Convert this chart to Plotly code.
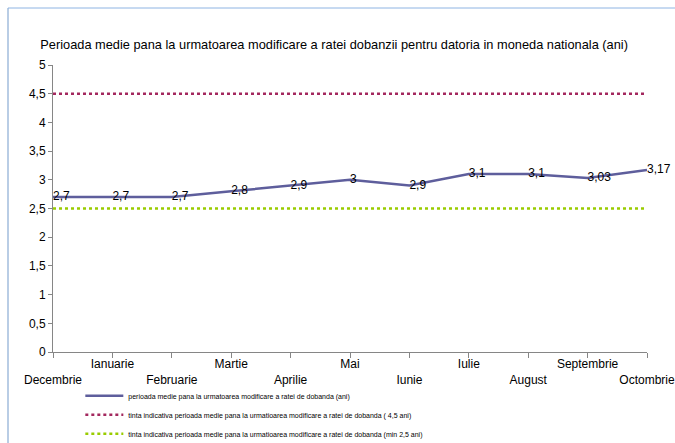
import plotly.graph_objects as go

months = ["Decembrie", "Ianuarie", "Februarie", "Martie", "Aprilie", "Mai",
          "Iunie", "Iulie", "August", "Septembrie", "Octombrie"]
perioada = [2.7, 2.7, 2.7, 2.8, 2.9, 3.0, 2.9, 3.1, 3.1, 3.03, 3.17]
tinta_max = [4.5] * len(months)
tinta_min = [2.5] * len(months)
y_ticks = [0, 0.5, 1, 1.5, 2, 2.5, 3, 3.5, 4, 4.5, 5]

name_main = "perioada medie pana la urmatoarea modificare a ratei de dobanda (ani)"
name_max = "tinta indicativa perioada medie pana la urmatioarea modificare a ratei de dobanda ( 4,5 ani)"
name_min = "tinta indicativa perioada medie pana la urmatioarea modificare a ratei de dobanda (min 2,5 ani)"
title = "Perioada medie pana la urmatoarea modificare a ratei dobanzii pentru datoria in moneda nationala (ani)"

FONT = "Liberation Sans, Arial, sans-serif"
x = list(range(len(months)))

def fmt(v):
    s = ("%.2f" % v).rstrip("0").rstrip(".")
    return s.replace(".", ",")

fig = go.Figure()
fig.add_trace(go.Scatter(
    x=x, y=perioada, mode="lines+text", name=name_main,
    line=dict(color="#5E5E9C", width=2.5),
    text=[fmt(v) for v in perioada], textposition="middle right",
    textfont=dict(family=FONT, size=12, color="#000000"),
    cliponaxis=False,
))
fig.add_trace(go.Scatter(
    x=x, y=tinta_max, mode="lines", name=name_max,
    line=dict(color="#A3285E", width=2.5, dash="3px,3px"),
))
fig.add_trace(go.Scatter(
    x=x, y=tinta_min, mode="lines", name=name_min,
    line=dict(color="#99CC00", width=2.5, dash="3px,3px"),
))

ticktext = [("<br>" + m) if i % 2 == 0 else m for i, m in enumerate(months)]

fig.update_layout(
    width=675, height=443,
    margin=dict(l=53, r=28, t=65, b=91, autoexpand=False),
    paper_bgcolor="white", plot_bgcolor="white",
    separators=", ",
    font=dict(family=FONT, size=12, color="#000000"),
    title=dict(text=title, x=0.495, xanchor="center", y=1 - 45 / 443, yanchor="middle",
               font=dict(family=FONT, size=12.8, color="#000000"), automargin=False),
    showlegend=True,
    legend=dict(x=0.046, xanchor="left", y=-0.102, yanchor="top",
                font=dict(family=FONT, size=7, color="#000000"),
                bgcolor="rgba(0,0,0,0)", tracegroupgap=0, itemwidth=38),
    xaxis=dict(range=[0, 10], tickmode="array", tickvals=x, ticktext=ticktext,
               tickangle=0, automargin=False, ticklabelstandoff=-4,
               showgrid=False, zeroline=False, showline=True, linecolor="#868686",
               linewidth=1, ticks="outside", ticklen=5, tickcolor="#868686",
               tickfont=dict(family=FONT, size=12, color="#000000"), fixedrange=True),
    yaxis=dict(range=[0, 5], tickmode="array", tickvals=y_ticks, automargin=False,
               showgrid=False, zeroline=False, showline=True, linecolor="#868686",
               linewidth=1, ticks="outside", ticklen=4, tickcolor="#868686",
               tickfont=dict(family=FONT, size=12, color="#000000"), fixedrange=True),
    shapes=[
        dict(type="line", xref="paper", yref="paper", x0=-45 / 594, x1=-45 / 594,
             y0=(352 - 8) / 287, y1=(352 - 443) / 287,
             line=dict(color="#B9CDE5", width=2)),
        dict(type="line", xref="paper", yref="paper", x0=-45 / 594, x1=(675 - 53) / 594,
             y0=(352 - 8) / 287, y1=(352 - 8) / 287,
             line=dict(color="#8EB4E3", width=1)),
    ],
)

fig.write_html("out.html", config={"displayModeBar": False},
               post_script="document.body.style.margin='0';document.body.style.overflow='hidden';")
